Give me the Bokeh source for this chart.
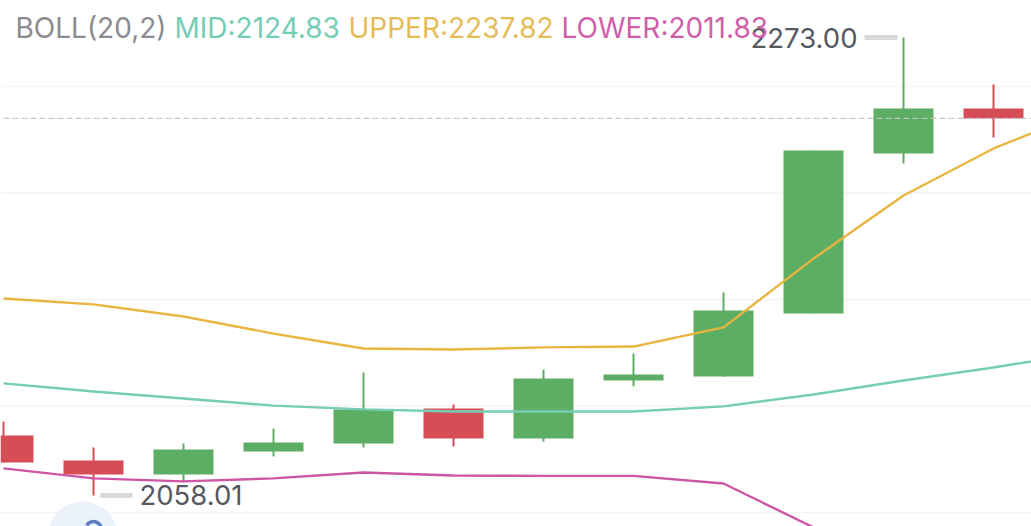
from bokeh.plotting import figure
from bokeh.models import Range1d, Label
from bokeh.core.properties import value
from bokeh.embed import file_html
from bokeh.resources import INLINE

opens  = [2086.2, 2074.4, 2067.8, 2078.6, 2082.4, 2098.8, 2084.7, 2112.0, 2113.8, 2143.4, 2218.5, 2239.7]
closes = [2073.5, 2067.8, 2079.6, 2082.9, 2098.4, 2084.7, 2112.9, 2114.8, 2144.8, 2220.0, 2239.7, 2235.0]
highs  = [2092.7, 2080.5, 2082.4, 2089.4, 2115.7, 2100.7, 2117.1, 2124.6, 2153.3, 2220.0, 2273.00, 2250.9]
lows   = [2073.5, 2058.01, 2064.1, 2076.3, 2080.5, 2081.0, 2083.3, 2109.2, 2113.8, 2143.4, 2213.8, 2226.1]
upper  = [2150.5, 2147.7, 2142.0, 2134.0, 2127.0, 2126.5, 2127.5, 2127.9, 2136.9, 2169.2, 2198.8, 2220.9, 2237.82]
mid    = [2110.6, 2106.8, 2103.5, 2100.2, 2098.4, 2097.4, 2097.4, 2097.4, 2099.8, 2105.4, 2112.0, 2118.1, 2124.83]
lower  = [2070.7, 2066.0, 2064.6, 2066.0, 2068.8, 2067.4, 2067.2, 2067.2, 2063.6, 2043.0, 2024.2, 2013.4, 2011.83]
grid_levels = [2250, 2200, 2150, 2100, 2050]
last_price = 2235.0
header = [("BOLL(20,2)", "#8b8c90", 15), ("MID:2124.83", "#74cdb4", 174),
          ("UPPER:2237.82", "#e6bc58", 348), ("LOWER:2011.83", "#cf60a8", 561)]

GREEN, RED = "#5cae65", "#d64d56"
W, H = 1031, 526
p = figure(width=W, height=H, output_backend="svg", toolbar_location=None,
           x_range=Range1d(-3 / 90, (W - 3) / 90),
           y_range=Range1d(2250 - (H - 86) / 2.13, 2250 + 86 / 2.13),
           min_border=0)
p.axis.visible = False
p.grid.visible = False
p.outline_line_color = None
p.background_fill_color = "#ffffff"

xs = list(range(len(opens)))
colors = [RED if c < o else GREEN for o, c in zip(opens, closes)]

p.segment(x0=[-1] * 5, x1=[13] * 5, y0=grid_levels, y1=grid_levels, line_color="#f3f3f3", line_width=1.5)
p.scatter(x=[0.88], y=[2038.7], size=70, fill_color="#ebf1fa", line_color=None)
p.arc(x=[1.0], y=[2038.7 + 3.3], radius=8, radius_units="screen", start_angle=-0.35, end_angle=2.6,
      line_color="#5f7fbf", line_width=3.5)
p.segment(x0=xs, x1=xs, y0=lows, y1=highs, line_color=colors, line_width=2)
p.vbar(x=xs, width=60 / 90, top=[max(a) for a in zip(opens, closes)],
       bottom=[min(a) for a in zip(opens, closes)], fill_color=colors, line_color=None)
p.segment(x0=[0], x1=[13], y0=[last_price], y1=[last_price], line_color="#c4c4c4",
          line_width=1.2, line_dash="6 3", line_alpha=0.9)

ix = list(range(len(upper)))
p.line(ix, mid, line_color="#74cdb4", line_width=2.4)
p.line(ix, upper, line_color="#e8b53e", line_width=2.4)
p.line(ix, lower, line_color="#cc56a4", line_width=2.4)

# high and low markers
hi_i, lo_i = highs.index(max(highs)), lows.index(min(lows))
p.segment(x0=[hi_i - 39 / 90], x1=[hi_i - 6 / 90], y0=[highs[hi_i]], y1=[highs[hi_i]], line_color="#d9d9d9", line_width=5)
p.segment(x0=[lo_i + 7 / 90], x1=[lo_i + 39 / 90], y0=[lows[lo_i]], y1=[lows[lo_i]], line_color="#d9d9d9", line_width=5)
p.text(x=[hi_i], y=[highs[hi_i]], text=[f"{highs[hi_i]:.2f}"], x_offset=-46, text_align="right",
       text_baseline="middle", text_font=value("Inter"), text_font_size="27.5px", text_color="#55595f")
p.text(x=[lo_i], y=[lows[lo_i]], text=[f"{lows[lo_i]:.2f}"], x_offset=46, text_align="left",
       text_baseline="middle", text_font=value("Inter"), text_font_size="27.5px", text_color="#55595f")

for label, color, left in header:
    p.add_layout(Label(x=left, y=H - 27, x_units="screen", y_units="screen", text=label, text_color=color,
                       text_font="Inter", text_font_size="28px", text_baseline="middle", text_align="left"))

open("out.html", "w").write(file_html(p, INLINE))
